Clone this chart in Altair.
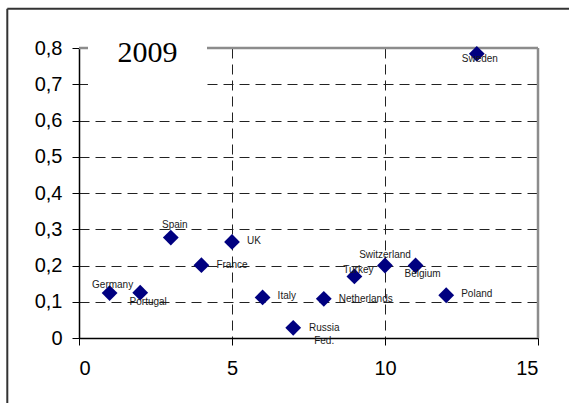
import altair as alt
import pandas as pd

# Country index (x) and indicator value (y) for 2009
countries = ["Germany", "Portugal", "Spain", "France", "UK", "Italy", "Russia Fed.",
             "Netherlands", "Turkey", "Switzerland", "Belgium", "Poland", "Sweden"]
index_pos = [1, 2, 3, 4, 5, 6, 7, 8, 9, 10, 11, 12, 13]
values = [0.124, 0.125, 0.277, 0.201, 0.265, 0.112, 0.028,
          0.108, 0.170, 0.200, 0.200, 0.118, 0.784]

x_ticks = [0, 5, 10, 15]
y_ticks = [0, 0.1, 0.2, 0.3, 0.4, 0.5, 0.6, 0.7, 0.8]
year_label = "2009"

df = pd.DataFrame({"country": countries, "idx": index_pos, "value": values})

W, H = 459, 290
FONT = "Liberation Sans"

x_scale = alt.Scale(domain=[0, 15], nice=False, zero=True)
y_scale = alt.Scale(domain=[0, 0.8], nice=False, zero=True)

x_axis = alt.Axis(values=x_ticks, title=None, labelPadding=13, grid=True,
                  labelOverlap=False)
y_axis = alt.Axis(values=y_ticks, title=None, labelPadding=10, grid=True,
                  labelOverlap=False,
                  labelExpr="datum.value == 0 ? '0' : replace(format(datum.value, '.1f'), '.', ',')")

x_enc = alt.X("idx:Q", scale=x_scale, axis=x_axis)
y_enc = alt.Y("value:Q", scale=y_scale, axis=y_axis)

base = alt.Chart(df)

points = base.mark_point(
    shape="diamond", filled=True, size=250, color="#000080", opacity=1
).encode(x=x_enc, y=y_enc)

# Hand-placed data labels: (dx, dy, align)
placement = {
    "Germany": (3, -8, "center"),
    "Portugal": (8, 9, "center"),
    "Spain": (4, -13, "center"),
    "France": (15, 0, "left"),
    "UK": (15, -1, "left"),
    "Italy": (15, -1, "left"),
    "Russia Fed.": (31, 0, "center"),
    "Netherlands": (15, 0, "left"),
    "Turkey": (4, -6, "center"),
    "Switzerland": (0, -11, "center"),
    "Belgium": (7, 8, "center"),
    "Poland": (15, -1, "left"),
    "Sweden": (3, 5, "center"),
}

label_layers = []
for name, (dx, dy, align) in placement.items():
    kw = dict(dx=dx, dy=dy, align=align, baseline="middle", font=FONT,
              fontSize=10, color="#1a1a1a")
    if name == "Russia Fed.":
        kw.update(lineBreak=" ", lineHeight=13)
    label_layers.append(
        base.transform_filter(alt.datum.country == name)
        .mark_text(**kw)
        .encode(x=x_enc, y=y_enc, text="country:N")
    )

one = alt.Data(values=[{"k": 0}])

# Gray plot frame on top and right
frame_top = alt.Chart(one).mark_rule(color="#8c8c8c", strokeWidth=2.5).encode(
    x=alt.value(0), x2=alt.value(W), y=alt.value(0))
frame_right = alt.Chart(one).mark_rule(color="#8c8c8c", strokeWidth=2.5).encode(
    x=alt.value(W), y=alt.value(0), y2=alt.value(H))

# Outer chart border (left and top edges)
border_left = alt.Chart(one).mark_rule(color="#333333", strokeWidth=2).encode(
    x=alt.value(-71.7), y=alt.value(-39.3), y2=alt.value(400))
border_top = alt.Chart(one).mark_rule(color="#333333", strokeWidth=2).encode(
    x=alt.value(-71.7), x2=alt.value(560), y=alt.value(-39.3))

# White box behind the year title
title_box = alt.Chart(one).mark_rect(color="white").encode(
    x=alt.value(9), x2=alt.value(128), y=alt.value(-8), y2=alt.value(44))
title_text = alt.Chart(one).mark_text(
    font="Liberation Serif", fontSize=30, color="black", align="center",
    baseline="alphabetic"
).encode(x=alt.value(68.5), y=alt.value(13.7), text=alt.value(year_label))

chart = alt.layer(
    frame_top, frame_right, border_left, border_top, title_box, title_text,
    points, *label_layers
).properties(
    width=W, height=H,
    autosize=alt.AutoSizeParams(type="none"),
    padding={"left": 79, "top": 48, "right": 31, "bottom": 65},
    background="white",
).configure_view(stroke=None).configure_axis(
    domainColor="black", domainWidth=1.5, tickColor="black", tickSize=7,
    tickWidth=1, labelFont=FONT, labelFontSize=20, labelColor="black",
    gridColor="#222222", gridDash=[10, 6], gridWidth=1, gridOpacity=1,
)

chart.save("out.html", embed_options={"renderer": "svg", "actions": False})
